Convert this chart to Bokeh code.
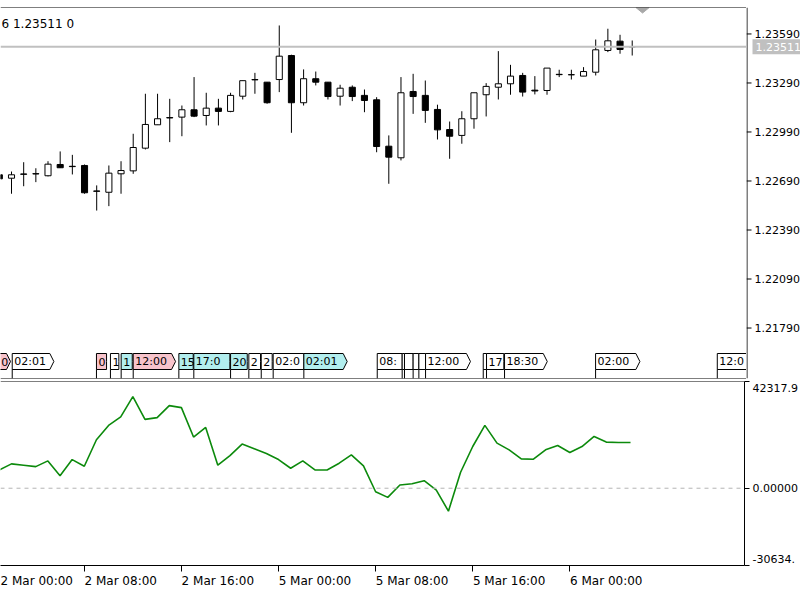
from bokeh.plotting import figure
from bokeh.models import (Range1d, LinearAxis, FixedTicker, CustomJSTickFormatter, Span)
from bokeh.layouts import column, row
from bokeh.embed import file_html
from bokeh.resources import INLINE
from bokeh.core.properties import value

# ---------------- data ----------------
idx = list(range(-1, 52))
opens = [1.22728, 1.22707, 1.22733, 1.22735, 1.22722, 1.22791, 1.22780, 1.22785, 1.22629, 1.22621,
         1.22734, 1.22752, 1.22891, 1.23034, 1.23078, 1.23081, 1.23126, 1.23091, 1.23136, 1.23116,
         1.23209, 1.23311, 1.23295, 1.23311, 1.23458, 1.23169, 1.23316, 1.23295, 1.23209, 1.23264,
         1.23214, 1.23187, 1.22903, 1.22832, 1.23238, 1.23214, 1.23128, 1.23005, 1.22969, 1.23071,
         1.23218, 1.23264, 1.23285, 1.23336, 1.23246, 1.23244, 1.23343, 1.23341, 1.23332, 1.23356,
         1.23489, 1.23546, 1.23513]
highs = [1.22742, 1.22748, 1.22805, 1.22768, 1.22811, 1.22871, 1.22850, 1.22791, 1.22663, 1.22785,
         1.22811, 1.22979, 1.23224, 1.23224, 1.23193, 1.23152, 1.23326, 1.23230, 1.23193, 1.23230,
         1.23304, 1.23352, 1.23295, 1.23642, 1.23463, 1.23373, 1.23360, 1.23295, 1.23279, 1.23275,
         1.23250, 1.23203, 1.22969, 1.23326, 1.23346, 1.23305, 1.23157, 1.23054, 1.23117, 1.23230,
         1.23289, 1.23485, 1.23401, 1.23352, 1.23332, 1.23381, 1.23371, 1.23371, 1.23387, 1.23556,
         1.23622, 1.23585, 1.23550]
lows = [1.22693, 1.22612, 1.22658, 1.22683, 1.22718, 1.22770, 1.22730, 1.22612, 1.22509, 1.22536,
        1.22612, 1.22734, 1.22883, 1.23034, 1.22928, 1.22964, 1.23081, 1.23030, 1.23030, 1.23111,
        1.23189, 1.23224, 1.23163, 1.23234, 1.22985, 1.23152, 1.23275, 1.23189, 1.23152, 1.23179,
        1.23111, 1.22866, 1.22673, 1.22816, 1.23101, 1.23046, 1.22944, 1.22826, 1.22918, 1.23010,
        1.23085, 1.23189, 1.23218, 1.23207, 1.23220, 1.23218, 1.23326, 1.23311, 1.23332, 1.23336,
        1.23479, 1.23469, 1.23458]
closes = [1.22703, 1.22728, 1.22731, 1.22733, 1.22793, 1.22771, 1.22778, 1.22618, 1.22627, 1.22738,
          1.22754, 1.22895, 1.23036, 1.23071, 1.23076, 1.23126, 1.23087, 1.23136, 1.23116, 1.23214,
          1.23304, 1.23309, 1.23169, 1.23454, 1.23169, 1.23316, 1.23295, 1.23207, 1.23258, 1.23207,
          1.23183, 1.22901, 1.22836, 1.23230, 1.23207, 1.23122, 1.23003, 1.22964, 1.23071, 1.23230,
          1.23269, 1.23285, 1.23332, 1.23234, 1.23241, 1.23381, 1.23341, 1.23340, 1.23360, 1.23493,
          1.23548, 1.23495, 1.23511]
indicator = [7255, 9646, 9128, 8570, 10842, 4983, 11360, 8729, 19213, 24913,
             28261, 36352, 27304, 27982, 32765, 31968, 20289, 24115, 9128, 12955,
             17499, 15625, 13752, 11360, 7932, 10842, 7255, 7255, 9925, 13234,
             8849, -1395, -3627, 1276, 1794, 2990, -717, -9088, 6338, 16542,
             24913, 17897, 15227, 11639, 11520, 15227, 16941, 14150, 16542, 20528,
             18296, 18136, 18136]

price_ticks = [1.21790, 1.22090, 1.22390, 1.22690, 1.22990, 1.23290, 1.23590]
price_tick_labels = ["1.21790", "1.22090", "1.22390", "1.22690", "1.22990", "1.23290", "1.23590"]
last_price = 1.23511
last_price_label = "1.23511"
header_text = "6 1.23511 0"

ind_max = 42317.9
ind_min = -30634.4
ind_labels = ["-30634.", "0.00000", "42317.9"]

time_ticks = [-2, 6, 14, 22, 30, 38, 46]
time_labels = ["2 Mar 00:00", "2 Mar 08:00", "2 Mar 16:00", "5 Mar 00:00",
               "5 Mar 08:00", "5 Mar 16:00", "6 Mar 00:00"]

# economic-calendar tags (in bar units)
tag_start = [-1.0, 0.06, 6.98, 8.13, 9.01, 10.0, 13.75, 14.98, 18.0, 19.5, 20.52, 21.5, 24.02,
             30.05, 32.1, 32.29, 33.0, 33.47, 34.02, 38.76, 39.03, 40.51, 47.99, 57.99]
tag_end = [-0.08, 3.48, 7.81, 8.82, 9.92, 13.48, 14.93, 17.94, 19.37, 20.46, 21.42, 24.02, 27.58,
           32.1, 32.29, 33.0, 33.47, 34.02, 37.71, 39.03, 40.45, 44.02, 51.63, 61.71]
tag_text = ["0", "02:01", "0", "1", "1", "12:00", "15", "17:0", "20", "2", "2", "02:0", "02:01",
            "08:", "", "", "", "", "12:00", "", "17", "18:30", "02:00", "12:0"]
tag_kind = ["p", "w", "p", "w", "c", "p", "c", "c", "c", "w", "w", "w", "c",
            "w", "w", "w", "w", "w", "w", "w", "w", "w", "w", "w"]
tag_arrow = [1, 1, 0, 0, 0, 1, 0, 0, 0, 0, 0, 0, 1,
             0, 0, 0, 0, 0, 1, 0, 0, 1, 1, 1]

# ---------------- styling ----------------
FONT = "DejaVu Sans"
KIND_COLOR = {"p": "#f7c3cb", "c": "#b2eeee", "w": "#ffffff"}
STRIP = "#dcdcdc"
MAIN_W, SIDE_W = 746, 54
TOP_H, TOP_FRAME_H = 375, 371
BOT_FRAME_H = 184

xr = Range1d(-0.904, 60.39)
yr = Range1d(1.21481, 1.23752)


def strip():
    s = figure(width=800, height=6, output_backend="svg", toolbar_location=None,
               x_axis_location=None, y_axis_location=None, min_border=0,
               background_fill_color=STRIP, border_fill_color=STRIP)
    s.outline_line_color = None
    s.grid.visible = False
    return s


def labels_fmt(lst):
    return CustomJSTickFormatter(args=dict(labels=lst), code="return labels[index]")


def ticks_only_axis(ticks, out):
    return LinearAxis(ticker=FixedTicker(ticks=ticks), formatter=CustomJSTickFormatter(code="return ''"),
                      major_tick_out=out, major_tick_in=0, minor_tick_out=0, minor_tick_in=0,
                      axis_line_color="black", major_tick_line_color="black",
                      major_label_standoff=0, major_label_text_font_size="0px")


def labels_only_axis(ticks, labels, standoff, size):
    return LinearAxis(ticker=FixedTicker(ticks=ticks), formatter=labels_fmt(labels),
                      major_tick_out=0, major_tick_in=0, minor_tick_out=0, minor_tick_in=0,
                      axis_line_color=None, major_tick_line_color=None,
                      major_label_standoff=standoff, major_label_text_font=FONT,
                      major_label_text_font_size=size, major_label_text_color="black")


# ---------------- price panel ----------------
top = figure(width=MAIN_W, height=TOP_H, x_range=xr, y_range=yr,
             output_backend="svg", toolbar_location=None,
             x_axis_location=None, y_axis_location=None,
             min_border_left=0, min_border_right=0, min_border_top=1, min_border_bottom=3)
top.outline_line_color = None
top.grid.visible = False
top.extra_y_ranges = {"px": Range1d(378, 7)}

top.add_layout(Span(location=yr.end, dimension="width", line_color="black", line_width=1))
top.add_layout(Span(location=yr.start, dimension="width", line_color="black", line_width=1))
top.add_layout(Span(location=last_price, dimension="width", line_color="#c0c0c0", line_width=2))

# candles
up = [i for i in range(len(idx)) if closes[i] >= opens[i]]
dn = [i for i in range(len(idx)) if closes[i] < opens[i]]
top.segment(x0=idx, y0=lows, x1=idx, y1=highs, line_color="black", line_width=1)
top.vbar(x=[idx[i] for i in up], width=0.5, bottom=[opens[i] for i in up], top=[closes[i] for i in up],
         fill_color="white", line_color="black", line_width=1)
top.vbar(x=[idx[i] for i in dn], width=0.5, bottom=[closes[i] for i in dn], top=[opens[i] for i in dn],
         fill_color="black", line_color="black", line_width=1)

# event tags
TAG_TOP, TAG_BOT, ARROW = 353, 369, 0.33
xs, ys = [], []
for s, e, a in zip(tag_start, tag_end, tag_arrow):
    tip = ARROW if a else 0
    xs.append([s, e - tip, e, e - tip, s])
    ys.append([TAG_TOP, TAG_TOP, (TAG_TOP + TAG_BOT) / 2, TAG_BOT, TAG_BOT])
n_tags = len(tag_start)
top.patches(xs, ys, fill_color=[KIND_COLOR[k] for k in tag_kind], line_color="black",
            line_width=1, y_range_name="px")
top.segment(x0=tag_start, y0=[TAG_BOT] * n_tags, x1=tag_start, y1=[378] * n_tags,
            line_color="black", line_width=1, y_range_name="px")
top.text(x=tag_start, y=[(TAG_TOP + TAG_BOT) / 2] * n_tags, text=tag_text, x_offset=2,
         text_baseline="middle", text_font=value(FONT), text_font_size="11px",
         text_color="black", y_range_name="px")

# header text and shift marker
top.text(x=[xr.start], y=[23], text=[header_text], x_offset=1, text_baseline="middle",
         text_font=value(FONT), text_font_size="12px", text_color="black", y_range_name="px")
top.patch(x=[51.3, 52.4, 51.85], y=[7, 7, 12.5], fill_color="#a8a8a8", line_color="#a8a8a8",
          y_range_name="px")

# ---------------- price scale (right margin) ----------------
side = figure(width=SIDE_W, height=TOP_H, x_range=Range1d(0, SIDE_W), y_range=yr,
              output_backend="svg", toolbar_location=None,
              x_axis_location=None, y_axis_location=None,
              min_border_left=0, min_border_right=0, min_border_top=1, min_border_bottom=3)
side.outline_line_color = None
side.grid.visible = False
side.add_layout(Span(location=0.5, dimension="height", line_color="black", line_width=1))
n_pt = len(price_ticks)
side.segment(x0=[0] * n_pt, y0=price_ticks, x1=[5] * n_pt, y1=price_ticks,
             line_color="black", line_width=1)
side.text(x=[8] * n_pt, y=price_ticks, text=price_tick_labels, text_baseline="middle",
          text_font=value(FONT), text_font_size="11px", text_color="black")
half_tag = 7.5 * (yr.end - yr.start) / TOP_FRAME_H
side.quad(left=[6], right=[SIDE_W], bottom=[last_price - half_tag], top=[last_price + half_tag],
          fill_color="#c0c0c0", line_color=None)
side.text(x=[9], y=[last_price], text=[last_price_label], text_baseline="middle",
          text_font=value(FONT), text_font_size="11px", text_color="white")

# ---------------- indicator panel ----------------
bot = figure(width=800, height=213, x_range=xr, y_range=Range1d(ind_min, ind_max),
             output_backend="svg", toolbar_location=None,
             x_axis_location=None, y_axis_location=None,
             min_border_left=0, min_border_right=SIDE_W, min_border_top=0, min_border_bottom=29)
bot.outline_line_color = None
bot.grid.visible = False

bot.add_layout(Span(location=ind_max, dimension="width", line_color="black", line_width=1))
bot.add_layout(Span(location=0, dimension="width", line_color="#b4b4b4", line_width=1, line_dash="4 4"))

per_px = (ind_max - ind_min) / BOT_FRAME_H
bot.add_layout(ticks_only_axis([ind_min, 0, ind_max], 5), "right")
bot.add_layout(labels_only_axis([ind_min + 7 * per_px, 0, ind_max - 6 * per_px], ind_labels, 3, "11px"),
               "right")
bot.add_layout(ticks_only_axis(time_ticks, 6), "below")
bot.add_layout(labels_only_axis([t + 3.0 for t in time_ticks], time_labels, 2, "12px"), "below")

bot.line(idx, indicator, line_color="#0c8a0c", line_width=1.6)

layout = column(strip(), row(top, side, spacing=0), bot, strip(), spacing=0)
open("out.html", "w").write(file_html(layout, INLINE))
